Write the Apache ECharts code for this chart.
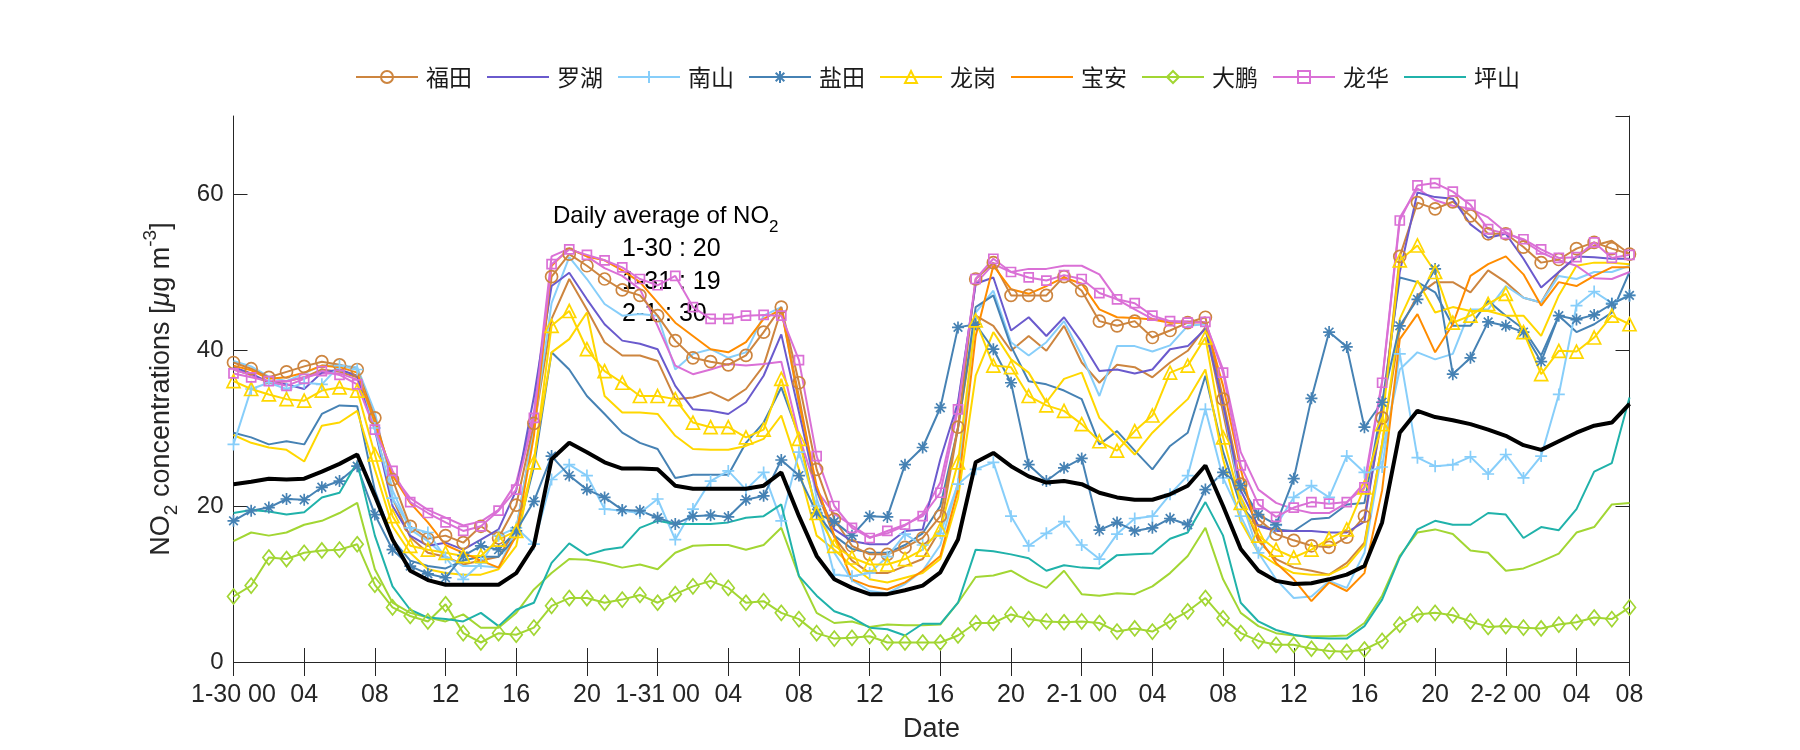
<!DOCTYPE html>
<html><head><meta charset="utf-8">
<script src="https://cdn.jsdelivr.net/npm/echarts@6/dist/echarts.min.js"></script>
<style>html,body{margin:0;padding:0;background:#fff}#c{width:1800px;height:750px}</style>
</head><body><div id="c"></div>
<script>
// ---------- data ----------
const days = ['1-30', '1-31', '2-1', '2-2'];
const tickIdx = [0,4,8,12,16,20,24,28,32,36,40,44,48,52,56,60,64,68,72,76,79];
const tickLabels = ['1-30 00','04','08','12','16','20','1-31 00','04','08','12','16','20','2-1 00','04','08','12','16','20','2-2 00','04','08'];
const dailyAvg = [['1-30', 20], ['1-31', 19], ['2-1', 30]];

const futian = [38.4,37.6,36.5,37.2,37.9,38.5,38.1,37.5,31.3,23.4,17.4,15.8,
 16.2,15.3,17.4,15.9,20.1,30.6,49.4,52.3,50.8,49.1,47.7,47.0,
 44.4,41.2,39.0,38.5,38.1,39.3,42.3,45.5,35.8,24.7,18.3,14.9,
 13.8,13.8,14.7,15.9,18.7,30.1,49.1,51.2,47.0,47.0,47.0,49.4,
 47.6,43.7,43.1,43.7,41.6,42.5,43.5,44.2,33.7,22.8,18.3,16.4,
 15.6,14.9,14.7,16.0,18.7,31.3,52.0,58.9,58.1,59.0,57.2,54.9,
 54.9,53.2,51.2,51.6,53.0,53.8,53.0,52.3];
const luohu = [37.8,37.0,35.8,35.6,35.0,37.1,37.5,36.7,29.8,20.0,16.2,14.9,
 15.3,14.4,15.7,17.0,22.0,34.0,48.2,49.9,46.5,43.3,41.2,40.8,
 40.1,35.4,32.4,32.2,31.8,33.3,36.7,42.0,32.0,22.0,17.0,15.5,
 15.1,15.1,16.8,17.0,26.0,33.3,48.5,49.3,42.5,44.2,41.8,44.2,
 41.0,37.3,37.5,37.0,37.5,40.1,40.5,42.7,33.0,22.0,17.4,16.8,
 16.8,16.8,16.6,16.6,18.0,32.0,50.0,60.2,59.6,59.4,56.1,54.4,
 54.9,51.7,48.0,50.0,52.0,51.9,51.7,51.7];
const nanshan = [27.9,35.0,35.8,35.0,35.8,35.6,38.0,37.5,30.0,21.0,17.2,16.6,
 13.4,10.6,12.7,16.2,17.2,15.1,23.4,25.3,23.9,19.6,19.4,19.1,
 20.9,15.7,19.6,23.2,24.5,22.1,24.3,18.1,26.9,20.0,11.2,11.0,
 11.4,13.5,16.4,15.0,16.5,22.8,24.7,25.6,18.7,14.9,16.5,18.0,
 15.0,13.2,16.4,18.4,18.7,21.5,23.9,32.4,23.6,18.7,14.0,17.5,
 21.1,22.6,21.1,26.4,24.3,25.0,39.5,26.2,25.1,25.3,26.3,24.1,
 26.6,23.6,26.4,34.3,45.7,47.5,46.0,47.0];
const yantian = [18.1,19.4,19.8,20.9,20.8,22.4,23.2,25.1,18.9,14.4,12.3,11.3,
 10.8,13.6,14.9,14.4,16.8,20.6,26.4,23.9,22.1,21.1,19.5,19.4,
 18.5,17.7,18.7,18.8,18.6,20.8,21.3,25.9,23.9,19.1,18.0,16.2,
 18.7,18.6,25.3,27.5,32.6,42.9,43.3,40.1,35.8,25.3,23.2,24.9,
 26.1,16.9,17.9,16.8,17.2,18.4,17.6,22.1,24.3,22.6,18.9,17.6,
 23.5,33.8,42.3,40.4,30.1,33.3,43.1,46.5,50.4,36.9,39.0,43.6,
 43.1,42.3,38.5,44.4,43.9,44.5,45.9,47.0];
const longgang = [36.0,35.0,34.3,33.7,33.5,34.8,35.2,34.8,26.6,18.7,14.9,14.4,
 14.0,13.6,13.6,15.7,16.8,25.6,43.1,45.0,40.1,37.3,35.8,34.1,
 34.1,33.7,30.7,30.1,30.1,28.8,29.8,36.3,28.6,19.1,14.9,13.4,
 12.5,12.5,13.2,14.4,17.0,25.6,43.8,38.0,37.8,34.1,32.9,32.2,
 30.5,28.3,27.1,29.6,31.6,37.1,38.0,41.6,28.8,20.4,16.2,14.4,
 13.4,14.4,15.8,17.0,22.4,30.5,51.5,53.4,50.0,43.5,44.4,45.9,
 47.2,42.3,36.9,39.9,39.8,41.6,44.4,43.3];
const baoan = [38.0,37.4,36.3,36.5,37.1,38.0,37.8,37.1,30.7,23.9,20.4,17.9,
 15.0,14.0,13.0,12.1,16.2,29.0,50.8,53.0,52.0,51.5,50.2,48.7,
 46.1,43.5,41.8,40.1,39.7,41.0,44.0,45.2,33.3,22.6,16.2,10.6,
 9.7,9.3,10.2,11.7,13.6,22.1,41.8,50.8,47.8,47.2,48.2,49.3,
 48.5,45.2,44.2,44.1,43.9,43.5,43.5,43.6,35.4,24.7,16.0,12.7,
 10.6,7.8,10.2,9.1,11.4,22.0,41.4,44.6,39.7,43.3,49.5,51.0,
 52.0,49.7,45.7,48.7,48.2,49.5,50.6,50.6];
const dapeng = [8.4,9.8,13.4,13.2,14.0,14.3,14.4,15.1,9.9,7.0,5.9,5.2,
 7.4,3.7,2.5,3.7,3.5,4.4,7.2,8.2,8.2,7.6,8.0,8.6,
 7.6,8.7,9.7,10.4,9.5,7.6,7.8,6.3,5.5,3.7,3.0,3.1,
 3.3,2.5,2.5,2.5,2.5,3.4,5.0,5.0,6.1,5.5,5.2,5.1,
 5.2,5.0,3.9,4.3,3.9,5.2,6.5,8.2,5.6,3.7,2.7,2.2,
 2.2,1.7,1.4,1.3,1.6,2.7,4.8,6.1,6.3,6.0,5.2,4.5,
 4.6,4.4,4.3,4.8,5.1,5.7,5.5,7.0];
const longhua = [37.0,36.5,36.0,35.4,36.3,37.3,36.8,35.6,29.8,24.5,20.5,19.1,
 17.9,16.8,17.4,19.4,22.1,31.3,51.0,52.9,52.2,51.5,50.6,49.1,
 48.3,49.5,45.5,44.0,44.0,44.4,44.5,44.4,38.7,26.4,20.0,17.2,
 15.9,16.8,17.6,18.7,21.7,32.4,49.1,51.7,50.0,49.3,48.9,49.6,
 49.1,47.3,46.5,46.0,44.4,43.7,43.5,43.6,37.1,25.2,20.2,18.6,
 19.8,20.5,20.3,20.5,22.4,35.8,56.6,61.1,61.4,60.3,58.6,55.5,
 54.9,54.2,52.9,51.8,51.9,53.8,51.8,52.2];
const pingshan = [19.1,19.5,19.3,18.9,19.2,21.1,21.7,25.6,16.2,9.7,6.7,5.7,
 5.5,5.2,6.3,4.6,6.7,7.6,12.7,15.2,13.7,14.4,14.7,17.2,
 18.1,17.7,17.7,17.7,17.9,18.5,18.7,20.2,11.0,8.5,6.5,5.7,
 4.4,4.2,3.4,4.9,4.9,7.6,14.4,14.2,13.8,13.3,11.7,12.4,
 12.1,12.0,13.7,13.8,13.9,15.8,16.6,20.5,16.2,7.6,5.2,4.1,
 3.5,3.1,3.0,3.0,4.6,8.0,13.4,17.0,18.1,17.6,17.6,19.1,
 18.9,15.9,17.3,16.9,19.6,24.4,25.5,33.9];
// companion lines (no markers, not in legend)
const futianB = [37.5,36.8,35.8,36.0,36.5,37.5,37.2,36.5,30.0,21.0,16.0,14.0,
 13.5,12.5,13.0,13.5,17.0,30.0,44.0,49.1,45.2,41.0,39.3,39.3,
 38.6,33.7,33.9,34.6,33.5,35.0,38.0,45.2,34.0,22.0,16.0,13.0,
 11.4,11.4,12.3,13.2,17.0,30.0,44.4,43.1,39.9,41.8,39.9,43.1,
 38.4,35.8,38.1,37.8,36.5,38.4,39.9,42.9,32.0,21.0,15.5,13.2,
 12.1,11.7,11.2,12.7,15.3,28.0,42.7,47.0,48.7,48.7,47.4,50.2,
 48.7,46.7,46.1,50.0,51.9,53.4,54.0,52.3];
const nanshanB = [38.6,37.9,36.6,36.0,37.0,38.0,38.0,37.8,32.0,22.0,17.0,15.5,
 13.5,12.3,12.3,12.1,17.0,30.0,46.0,51.9,49.1,45.9,44.4,44.6,
 44.4,37.5,39.5,40.1,39.0,39.7,44.4,45.5,33.0,21.0,14.0,10.5,
 9.1,8.8,10.0,11.7,15.0,23.0,44.8,47.6,41.0,39.3,41.0,43.7,
 39.3,34.1,40.5,40.5,39.8,40.6,43.1,43.3,33.0,21.0,14.0,10.6,
 8.2,8.4,10.4,9.5,14.0,27.0,37.5,39.7,38.8,39.5,45.2,45.2,
 48.2,46.7,46.1,49.5,49.1,50.0,50.0,50.8];
const yantianB = [29.4,28.8,27.9,28.3,27.9,31.8,32.9,32.8,22.0,15.7,13.0,12.3,
 12.0,13.0,13.5,13.5,16.0,25.0,39.7,37.5,34.1,31.8,29.4,28.1,
 27.3,23.6,24.0,24.0,24.0,28.1,30.7,35.2,29.0,19.1,16.2,14.5,
 14.0,14.0,15.0,16.5,20.0,30.0,45.5,47.0,40.5,36.0,35.6,34.8,
 33.7,27.9,29.6,27.1,24.7,27.7,29.4,36.7,27.0,20.0,17.5,17.0,
 16.8,18.3,18.5,20.2,20.4,33.0,49.3,48.7,47.4,43.1,43.1,46.3,
 44.4,42.7,39.3,44.4,42.3,43.3,44.8,50.0];
const longgangB = [29.1,28.1,27.5,27.2,25.7,30.3,30.7,32.2,24.7,17.4,14.0,11.9,
 11.4,11.2,11.2,11.9,14.9,26.0,39.7,41.4,44.8,34.1,32.0,32.0,
 31.8,29.0,27.3,27.2,27.2,27.7,28.6,31.6,24.7,16.2,14.4,12.3,
 10.6,10.2,10.8,11.4,13.2,21.0,36.7,42.3,38.8,37.1,33.3,36.3,
 37.1,31.3,29.0,26.6,29.4,31.6,33.7,37.5,26.0,18.0,14.0,12.5,
 11.4,11.2,11.2,12.3,15.0,28.0,44.0,48.9,44.8,45.5,45.0,45.0,
 44.4,44.4,41.8,47.0,50.8,51.2,51.2,51.0];
const longhuaB = [37.5,36.8,36.0,36.0,36.5,37.0,37.0,36.2,30.5,24.0,21.0,19.5,
 18.5,17.5,18.0,19.5,23.0,32.0,52.0,53.0,52.0,50.5,49.5,47.8,
 43.1,38.0,36.9,37.5,38.2,38.0,38.2,38.5,29.0,22.0,19.0,17.5,
 16.0,16.5,17.5,19.0,23.0,33.0,48.5,51.0,50.0,50.4,50.4,50.8,
 50.8,49.7,46.5,45.2,44.0,43.7,43.7,43.5,37.5,26.9,22.1,20.4,
 19.6,19.1,19.1,20.4,23.0,36.0,57.0,60.7,59.2,58.5,58.1,57.0,
 55.1,54.0,52.5,51.5,50.8,49.2,49.1,50.0];
const dapengB = [15.5,16.6,16.2,16.6,17.6,18.1,19.1,20.4,11.9,7.6,6.3,5.7,
 5.2,6.1,4.4,4.4,6.3,9.3,11.4,13.2,13.1,12.7,12.1,12.5,
 11.9,14.0,14.9,15.0,15.0,14.4,15.0,17.2,11.0,6.3,5.0,5.2,
 4.5,4.8,4.7,4.7,4.8,7.6,10.9,11.1,11.7,10.4,9.5,11.7,
 8.7,8.5,8.8,8.7,9.7,11.4,13.6,17.2,10.6,6.3,4.6,3.7,
 3.4,3.3,3.3,3.4,5.0,8.5,13.6,16.6,17.0,16.4,14.3,14.0,
 11.7,12.0,12.9,13.9,16.6,17.3,20.2,20.4];
const average = [22.8,23.1,23.5,23.4,23.5,24.4,25.4,26.6,21.3,15.7,11.7,10.5,
 9.9,9.9,9.9,9.9,11.4,14.9,26.0,28.1,26.9,25.6,24.8,24.8,
 24.7,22.6,22.2,22.2,22.2,22.2,22.6,24.3,18.7,13.6,10.6,9.5,
 8.7,8.7,9.2,9.8,11.5,15.7,25.6,26.8,25.1,23.8,23.0,23.2,
 22.8,21.7,21.1,20.8,20.8,21.5,22.6,25.2,20.0,14.5,11.7,10.4,
 10.0,10.1,10.6,11.2,12.3,17.9,29.4,32.2,31.4,31.0,30.5,29.8,
 29.0,27.8,27.2,28.3,29.4,30.3,30.7,33.1];

// ---------- build ----------
const categories = [];
for (let i = 0; i < futian.length; i++) {
  const d = days[Math.floor(i / 24)], h = i % 24;
  categories.push(d + ' ' + (h < 10 ? '0' : '') + h);
}
const AX = '#262626';
const FONT = '"Liberation Sans", Arial, sans-serif';
const SYM = {
  plus: 'path://M0,-1L0,1M-1,0L1,0',
  star: 'path://M0,-1L0,1M-1,0L1,0M-0.72,-0.72L0.72,0.72M-0.72,0.72L0.72,-0.72'
};
function line(name, data, color, symbol, size, width, z) {
  const s = {
    type: 'line', name: name, data: data, z: z || 3,
    showAllSymbol: true, silent: true,
    lineStyle: { color: color, width: width || 2 },
    emphasis: { disabled: true }
  };
  if (symbol) {
    s.symbol = symbol; s.symbolSize = size;
    s.itemStyle = { color: 'rgba(0,0,0,0)', borderColor: color, borderWidth: 1.7 };
  } else {
    s.symbol = 'circle'; s.symbolSize = 0; s.showSymbol = false;
    s.itemStyle = { color: 'rgba(0,0,0,0)', borderColor: 'rgba(0,0,0,0)', borderWidth: 0 };
  }
  return s;
}
const col = {
  '福田': '#CD853F', '罗湖': '#6A5ACD', '南山': '#87CEFA', '盐田': '#4682B4',
  '龙岗': '#FFD700', '宝安': '#FF8C00', '大鹏': '#A2D633', '龙华': '#DA70D6', '坪山': '#20B2AA'
};
const series = [
  line('福田B', futianB, col['福田']),
  line('南山B', nanshanB, col['南山']),
  line('盐田B', yantianB, col['盐田']),
  line('龙岗B', longgangB, col['龙岗']),
  line('大鹏B', dapengB, col['大鹏']),
  line('龙华B', longhuaB, col['龙华']),
  line('福田', futian, col['福田'], 'circle', 12),
  line('罗湖', luohu, col['罗湖']),
  line('南山', nanshan, col['南山'], SYM.plus, 12),
  line('盐田', yantian, col['盐田'], SYM.star, 12),
  line('龙岗', longgang, col['龙岗'], 'triangle', 13),
  line('宝安', baoan, col['宝安']),
  line('大鹏', dapeng, col['大鹏'], 'diamond', [12, 15]),
  line('龙华', longhua, col['龙华'], 'rect', 9),
  line('坪山', pingshan, col['坪山']),
  line('average', average, '#000000', null, 0, 4, 5)
];

const tickShow = (i) => tickIdx.indexOf(i) >= 0;
const catAxisBase = {
  type: 'category', data: categories, boundaryGap: false,
  axisLine: { show: true, lineStyle: { color: AX, width: 1 } },
  axisTick: { show: true, inside: true, length: 14, interval: tickShow, lineStyle: { color: AX } },
  splitLine: { show: false }
};
const valAxisBase = {
  type: 'value', min: 0, max: 70, interval: 20,
  axisLine: { show: true, lineStyle: { color: AX, width: 1 } },
  axisTick: { show: true, inside: true, length: 14, lineStyle: { color: AX } },
  splitLine: { show: false }
};

const rich = {
  a: { fontFamily: FONT, fontSize: 27, color: AX, lineHeight: 40 },
  i: { fontFamily: FONT, fontSize: 27, color: AX, lineHeight: 40, fontStyle: 'italic' },
  s: { fontFamily: FONT, fontSize: 19, color: AX, lineHeight: 14, verticalAlign: 'bottom' },
  p: { fontFamily: FONT, fontSize: 19, color: AX, lineHeight: 14, verticalAlign: 'top' }
};

const graphics = [{
  type: 'text', left: 553, top: 204, z: 0,
  style: {
    text: '{a|Daily average of NO}{s|2}',
    rich: {
      a: { fontFamily: FONT, fontSize: 24, fill: '#000', lineHeight: 40 },
      s: { fontFamily: FONT, fontSize: 17, fill: '#000', lineHeight: 14, verticalAlign: 'bottom' }
    }
  }
}];
dailyAvg.forEach((d, k) => {
  graphics.push({
    type: 'text', left: 622, top: 237 + k * 32.5, z: 0,
    style: { text: d[0] + ' : ' + d[1], font: '25px ' + FONT, fill: '#000' }
  });
});

const option = {
  animation: false,
  backgroundColor: '#ffffff',
  grid: { left: 233.5, right: 170.5, top: 116, bottom: 87.5, containLabel: false },
  legend: {
    data: ['福田','罗湖','南山','盐田','龙岗','宝安','大鹏','龙华','坪山'],
    left: 350, top: 60, orient: 'horizontal',
    itemWidth: 62, itemHeight: 15, itemGap: 14,
    selectedMode: false,
    textStyle: { fontFamily: '"Noto Sans CJK SC", sans-serif', fontSize: 23, color: '#1a1a1a', lineHeight: 24, padding: [0, 0, 0, 3] }
  },
  xAxis: [
    Object.assign({}, catAxisBase, {
      position: 'bottom',
      name: 'Date', nameLocation: 'middle', nameGap: 53,
      nameTextStyle: { fontFamily: FONT, fontSize: 27, color: AX, lineHeight: 30 },
      axisLabel: {
        show: true, interval: tickShow, margin: 19,
        fontFamily: FONT, fontSize: 25, color: AX, lineHeight: 28,
        formatter: (v, i) => { const k = tickIdx.indexOf(i); return k >= 0 ? tickLabels[k] : ''; }
      }
    }),
    Object.assign({}, catAxisBase, { position: 'top', axisLabel: { show: false } })
  ],
  yAxis: [
    Object.assign({}, valAxisBase, {
      position: 'left',
      name: '{a|NO}{s|2}{a| concentrations [}{i|μ}{a|g m}{p|-3}{a|]}',
      nameLocation: 'middle', nameGap: 52,
      nameTextStyle: { rich: rich },
      axisLabel: { show: true, margin: 10, showMaxLabel: false, fontFamily: FONT, fontSize: 24, color: AX }
    }),
    Object.assign({}, valAxisBase, { position: 'right', axisLabel: { show: false } })
  ],
  graphic: graphics,
  series: series
};
const chart = echarts.init(document.getElementById('c'), null, { renderer: 'canvas' });
chart.setOption(option);
</script></body></html>
